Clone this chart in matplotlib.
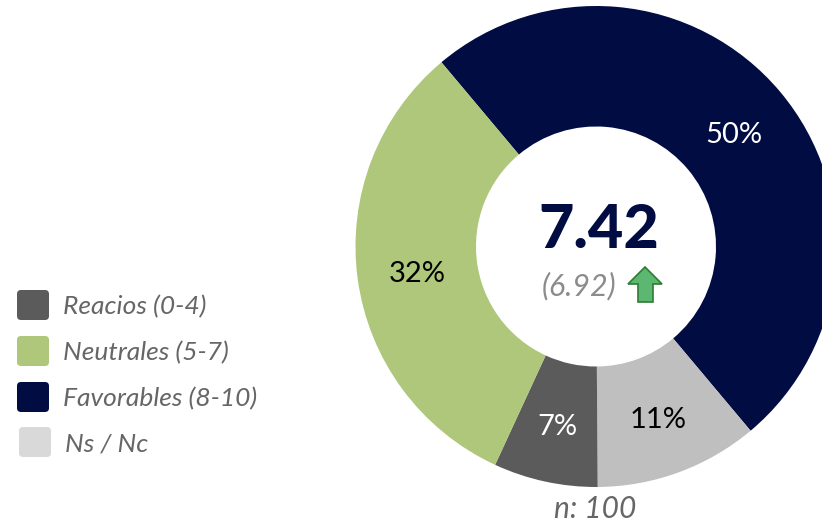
import matplotlib
matplotlib.use('Agg')
import matplotlib.pyplot as plt
from matplotlib.patches import FancyBboxPatch, Polygon

plt.rcParams['font.family'] = ['Lato', 'DejaVu Sans']

# slices, clockwise from the upper left
slice_names = ['Favorables', 'Ns / Nc', 'Reacios', 'Neutrales']
slice_values = [50, 11, 7, 32]
slice_colors = ['#000c42', '#bfbfbf', '#5b5b5b', '#aec77a']
label_colors = ['white', 'black', 'white', 'black']

legend_labels = ['Reacios (0-4)', 'Neutrales (5-7)', 'Favorables (8-10)', 'Ns / Nc']
legend_colors = ['#5b5b5b', '#aec77a', '#000c42', '#d9d9d9']
legend_x = [17, 17, 17, 19]
legend_y = [305, 351, 397, 442]

score = '7.42'
previous = '(6.92)'
sample = 'n: 100'

W, H = 822, 524
fig = plt.figure(figsize=(W / 100, H / 100), dpi=100)
ax = fig.add_axes([0, 0, 1, 1])

# pixel coordinates, y measured from the bottom
cx, cy = 596, H - 246.5
wedges, _, autotexts = ax.pie(
    slice_values, colors=slice_colors, center=(cx, cy), radius=240.5,
    startangle=130, counterclock=False, frame=True,
    wedgeprops=dict(width=120.5, linewidth=0),
    autopct='%d%%', pctdistance=0.75,
    textprops=dict(fontsize=21),
)
for t, c in zip(autotexts, label_colors):
    t.set_color(c)
    # labels sit a little lower than the ring middle
    x, y = t.get_position()
    t.set_position((x, y - 4))

ax.set_xlim(0, W)
ax.set_ylim(0, H)
ax.set_aspect('equal')
ax.axis('off')

# center text
ax.text(599, H - 230, score, ha='center', va='center', fontsize=44,
        fontweight='black', color='#000c42')
ax.text(579, H - 286, previous, ha='center', va='center', fontsize=22,
        style='italic', color='#8c8c8c')

# up arrow
arrow = Polygon([(645, H - 267), (662, H - 284), (653, H - 284), (653, H - 302),
                 (638, H - 302), (638, H - 284), (628, H - 284)],
                closed=True, facecolor='#5cb870', edgecolor='#2f7a35', linewidth=1.2)
ax.add_patch(arrow)

# legend
for x, y, lab, col in zip(legend_x, legend_y, legend_labels, legend_colors):
    box = FancyBboxPatch((x + 4, H - y - 11), 24, 22,
                         boxstyle='round,pad=4,rounding_size=4',
                         facecolor=col, edgecolor='none')
    ax.add_patch(box)
    ax.text(x + 46, H - y - 2, lab, ha='left', va='center', fontsize=19,
            style='italic', color='#666666')

ax.text(595, H - 509, sample, ha='center', va='center', fontsize=21.5,
        style='italic', color='#666666')

fig.savefig('out.png', dpi=100)
